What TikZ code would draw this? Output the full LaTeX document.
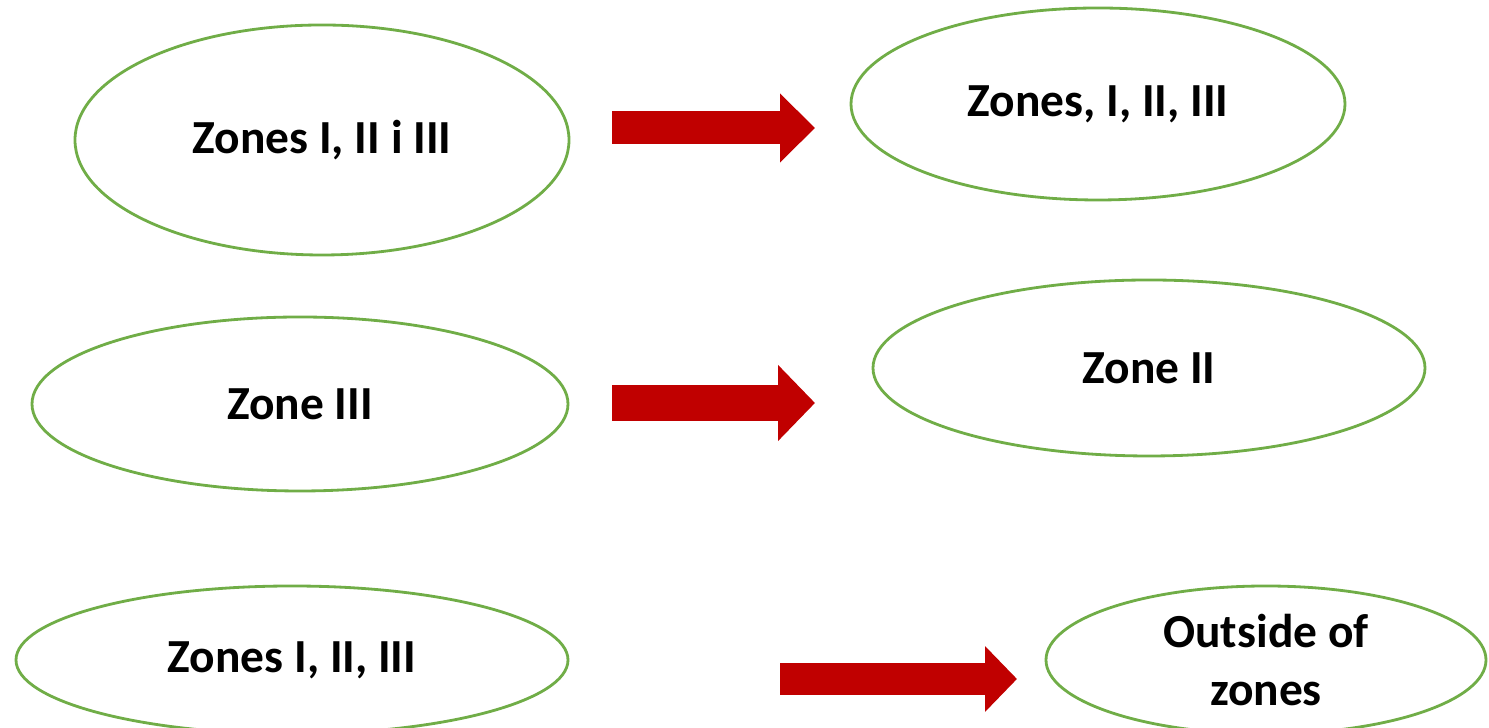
\documentclass[tikz,border=0pt]{standalone}
\usepackage{fontspec}
\setmainfont{Carlito}
\usetikzlibrary{shapes.geometric,arrows.meta}
\definecolor{zonegreen}{HTML}{70AD47}
\definecolor{arrowred}{HTML}{C00000}
\begin{document}
\begin{tikzpicture}[
    zone/.style={ellipse, draw=zonegreen, line width=1.6pt, inner sep=0pt, align=center, font=\fontsize{27}{33}\selectfont\bfseries},
    bigarrow/.style={arrowred, line width=#1, line cap=butt}
    ]
        \useasboundingbox (0, 0) rectangle (29.78, 14.56);
        \node[zone, minimum width=9.88cm, minimum height=4.60cm] (ZL1) at (6.44, 11.76) {Zones I, II i III};
        \node[zone, minimum width=9.88cm, minimum height=3.84cm] (ZR1) at (21.96, 12.48) {Zones, I, II, III};
        \node[zone, minimum width=10.72cm, minimum height=3.48cm] (ZL2) at (6.0, 6.48) {Zone III};
        \node[zone, minimum width=11.04cm, minimum height=3.52cm] (ZR2) at (22.98, 7.2) {Zone II};
        \node[zone, minimum width=11.04cm, minimum height=2.96cm] (ZL3) at (5.84, 1.36) {Zones I, II, III};
        \node[zone, minimum width=8.80cm, minimum height=2.96cm] (ZR3) at (25.32, 1.36) {Outside of\\zones};
        \coordinate (A1s) at (12.24, 12.0);
        \coordinate (A1e) at (16.3, 12.0);
        \coordinate (A2s) at (12.24, 6.5);
        \coordinate (A2e) at (16.3, 6.5);
        \coordinate (A3s) at (15.6, 0.98);
        \coordinate (A3e) at (20.34, 0.98);
        \draw[bigarrow=0.66cm, -{Triangle[length=0.7cm, width=1.34cm]}] (A1s) -- (A1e);
        \draw[bigarrow=0.72cm, -{Triangle[length=0.74cm, width=1.48cm]}] (A2s) -- (A2e);
        \draw[bigarrow=0.64cm, -{Triangle[length=0.64cm, width=1.28cm]}] (A3s) -- (A3e);
    \end{tikzpicture}
\end{document}
